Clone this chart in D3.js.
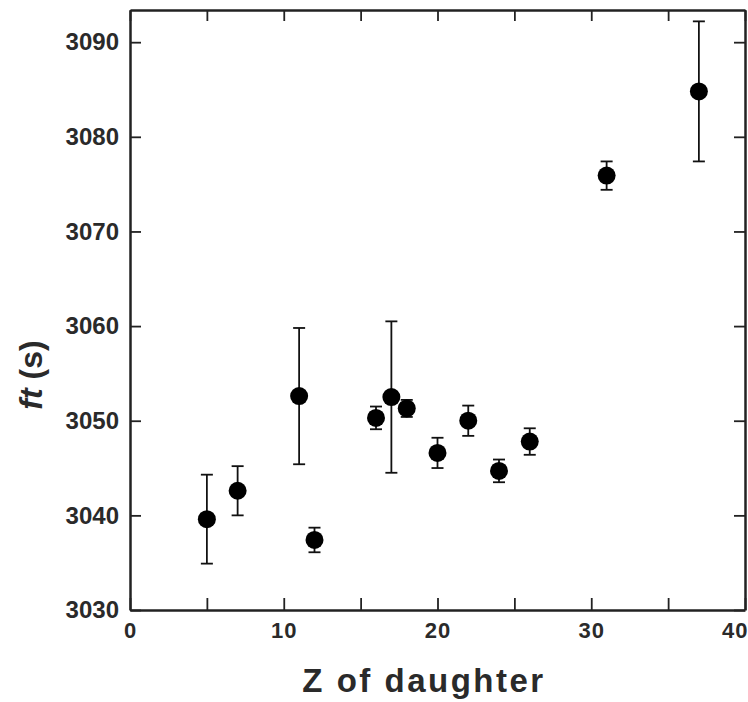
<!DOCTYPE html>
<html>
<head>
<meta charset="utf-8">
<script src="https://cdn.jsdelivr.net/npm/d3@7"></script>
<style>
  body { margin: 0; background: #fff; }
  svg { display: block; font-family: 'Liberation Sans', Arial, sans-serif; }
</style>
</head>
<body>
<div id="chart"></div>
<script>
// data
const zDaughter = [5, 7, 11, 12, 16, 17, 18, 20, 22, 24, 26, 31, 37];
const ftValues = [3039.6, 3042.6, 3052.6, 3037.4, 3050.3, 3052.5, 3051.3, 3046.6, 3050.0, 3044.7, 3047.8, 3075.9, 3084.8];
const ftErrors = [4.7, 2.6, 7.2, 1.3, 1.2, 8.0, 0.9, 1.6, 1.6, 1.2, 1.4, 1.5, 7.4];
const xTicks = [0, 5, 10, 15, 20, 25, 30, 35, 40];
const yTicks = [3030, 3040, 3050, 3060, 3070, 3080, 3090];

const size = { width: 748, height: 702 };
const margin = { left: 130, right: 3, top: 10, bottom: 92 };
const w = size.width - margin.left - margin.right;
const h = size.height - margin.top - margin.bottom;
const ink = '#222';

const x = d3.scaleLinear().domain([0, 40]).range([0, w]);
const y = d3.scaleLinear().domain([3030, 3093.4]).range([h, 0]);

const svg = d3.select('#chart')
  .append('svg')
  .attr('width', size.width)
  .attr('height', size.height);

const g = svg.append('g')
  .attr('transform', `translate(${margin.left},${margin.top})`);

// axes, ticks pointing inward
const styleAxis = (sel) => {
  sel.select('.domain').attr('stroke', ink).attr('stroke-width', 2.5);
  sel.selectAll('.tick line').attr('stroke', ink).attr('stroke-width', 1.8);
  sel.selectAll('.tick text')
    .attr('fill', '#2a2a2a')
    .style('font-weight', 'bold');
};

const xAxis = g.append('g')
  .attr('transform', `translate(0,${h})`)
  .call(d3.axisBottom(x).tickValues(xTicks).tickSizeInner(-12).tickSizeOuter(0).tickPadding(12)
    .tickFormat((d) => (d % 10 === 0 ? d : '')))
  .call(styleAxis);
xAxis.selectAll('.tick text')
  .style('font-size', '22px')
  .style('letter-spacing', '1px');
// last label sits flush with the right frame
xAxis.selectAll('.tick text')
  .filter((d) => d === 40)
  .attr('text-anchor', 'end')
  .attr('x', 3);

g.append('g')
  .call(d3.axisTop(x).tickValues(xTicks).tickSizeInner(-11).tickSizeOuter(0).tickFormat(''))
  .call(styleAxis);

g.append('g')
  .call(d3.axisLeft(y).tickValues(yTicks).tickSizeInner(-11).tickSizeOuter(0).tickPadding(11)
    .tickFormat(d3.format('d')))
  .call(styleAxis)
  .selectAll('.tick text')
  .style('font-size', '24px');

g.append('g')
  .attr('transform', `translate(${w},0)`)
  .call(d3.axisRight(y).tickValues(yTicks).tickSizeInner(-11).tickSizeOuter(0).tickFormat(''))
  .call(styleAxis);

// error bars
const points = zDaughter.map((z, i) => ({ z, ft: ftValues[i], err: ftErrors[i] }));
const bars = g.append('g').selectAll('g')
  .data(points)
  .enter()
  .append('g')
  .attr('stroke', '#111')
  .attr('stroke-width', 1.8);

bars.append('line')
  .attr('x1', (d) => x(d.z)).attr('x2', (d) => x(d.z))
  .attr('y1', (d) => y(d.ft - d.err)).attr('y2', (d) => y(d.ft + d.err));
bars.append('line')
  .attr('x1', (d) => x(d.z) - 6).attr('x2', (d) => x(d.z) + 6)
  .attr('y1', (d) => y(d.ft + d.err)).attr('y2', (d) => y(d.ft + d.err));
bars.append('line')
  .attr('x1', (d) => x(d.z) - 6).attr('x2', (d) => x(d.z) + 6)
  .attr('y1', (d) => y(d.ft - d.err)).attr('y2', (d) => y(d.ft - d.err));

// points
g.append('g').selectAll('circle')
  .data(points)
  .enter()
  .append('circle')
  .attr('cx', (d) => x(d.z))
  .attr('cy', (d) => y(d.ft))
  .attr('r', 9)
  .attr('fill', '#000');

// axis titles
svg.append('text')
  .attr('x', 424)
  .attr('y', 692)
  .attr('text-anchor', 'middle')
  .attr('fill', '#2a2a2a')
  .style('font-size', '33px')
  .style('font-weight', 'bold')
  .style('letter-spacing', '2.5px')
  .text('Z of daughter');

const yTitle = svg.append('text')
  .attr('transform', 'translate(42,375) rotate(-90)')
  .attr('text-anchor', 'middle')
  .attr('fill', '#2a2a2a')
  .style('font-size', '32px')
  .style('font-weight', 'bold');
yTitle.append('tspan').style('font-style', 'italic').text('ft');
yTitle.append('tspan').text(' (s)');
</script>
</body>
</html>
